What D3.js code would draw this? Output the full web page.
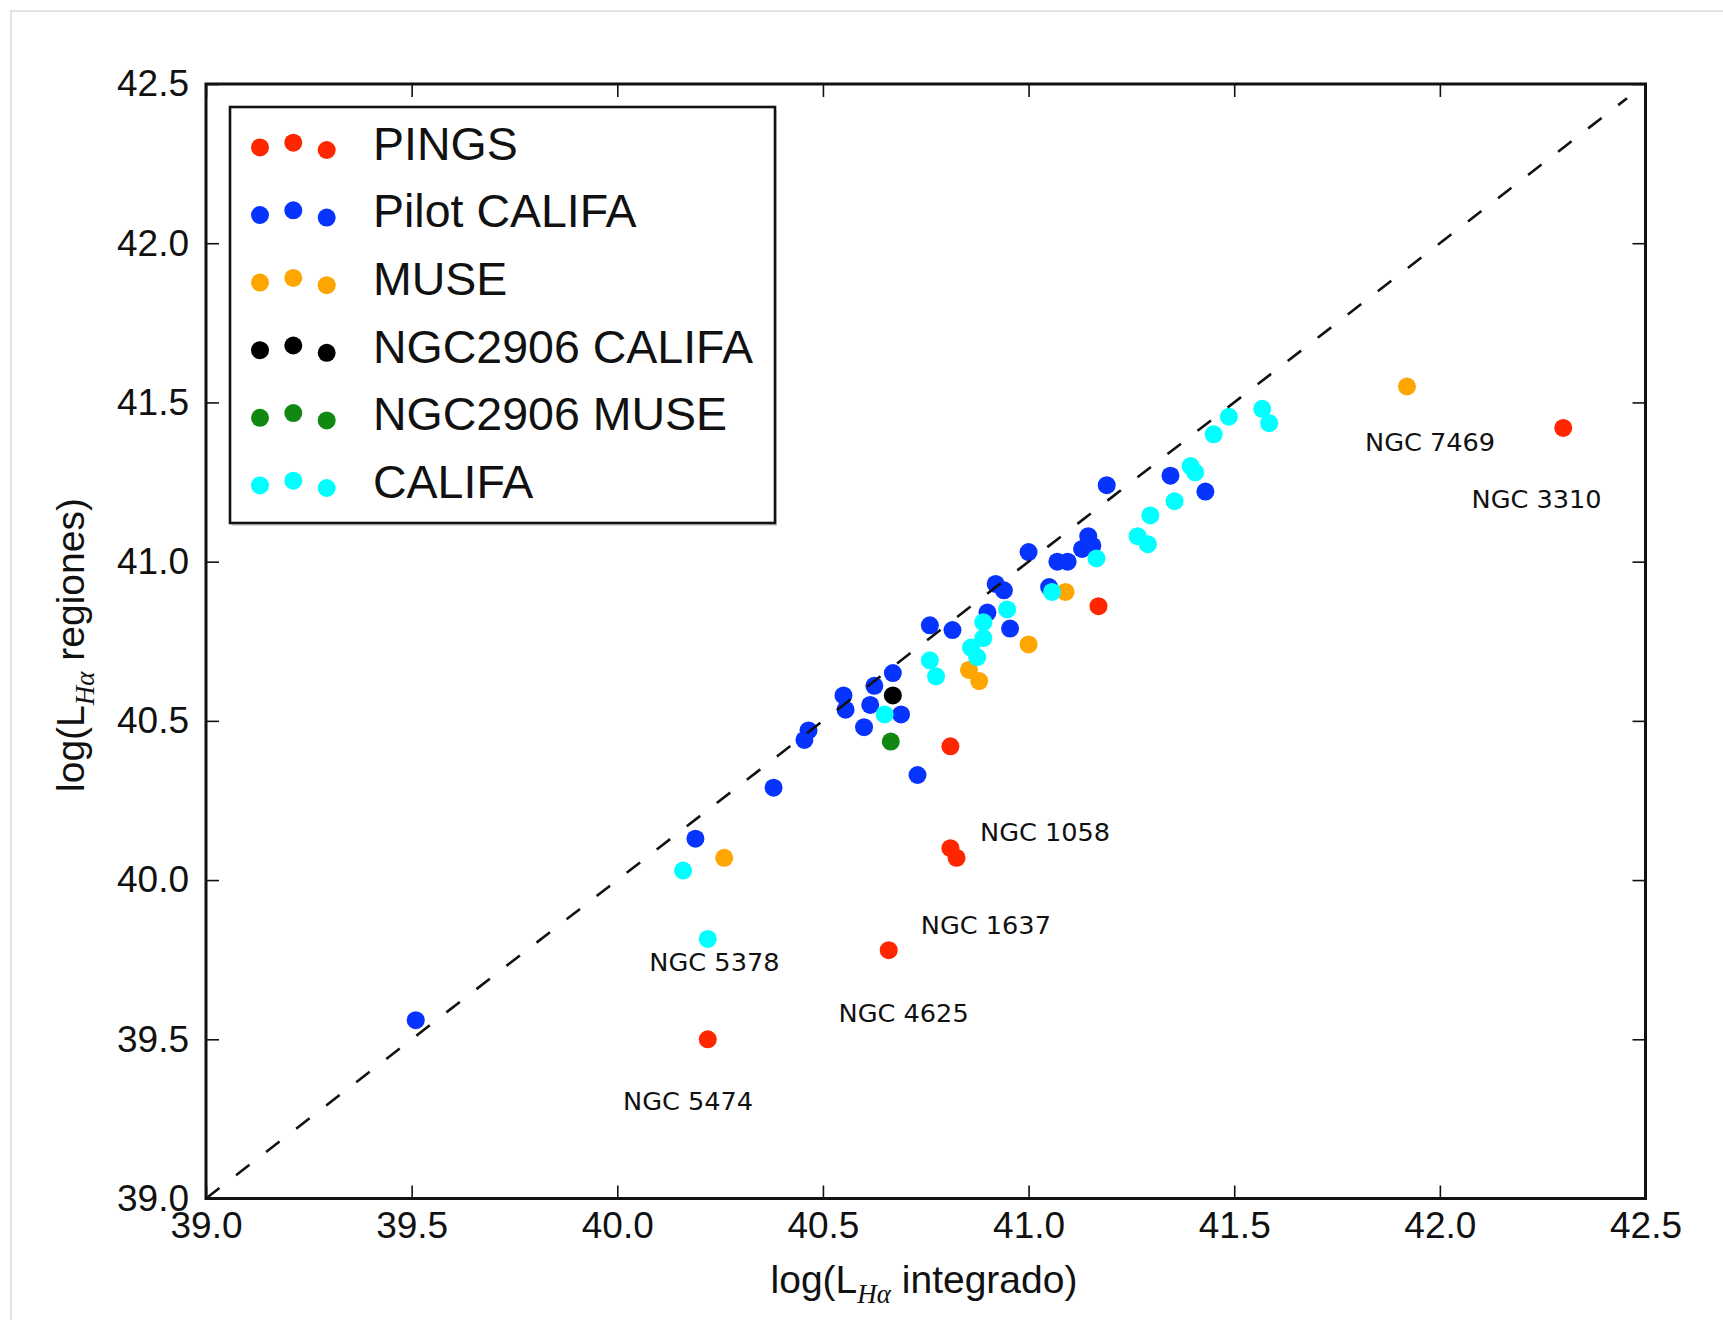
<!DOCTYPE html>
<html><head><meta charset="utf-8">
<script src="https://cdn.jsdelivr.net/npm/d3@7"></script>
<style>body{margin:0;background:#fff;} svg{display:block}</style>
</head><body><svg id="c" width="1723" height="1320"></svg>
<script>
// ---------- data ----------
const seriesNames = ["PINGS", "Pilot CALIFA", "MUSE", "NGC2906 CALIFA", "NGC2906 MUSE", "CALIFA"];
const seriesColors = ["#ff2600", "#0733ff", "#ffa500", "#000000", "#118811", "#00ffff"];

const pingsX = [40.22, 40.66, 40.81, 40.825, 40.81, 41.17, 42.30];
const pingsY = [39.50, 39.78, 40.10, 40.07, 40.42, 40.86, 41.42];

const pilotX = [39.51, 40.19, 40.38, 40.455, 40.465, 40.55, 40.555, 40.60, 40.615, 40.625, 40.67, 40.69, 40.73, 40.76, 40.815, 40.90, 40.92, 40.94, 40.955, 41.00, 41.05, 41.07, 41.095, 41.13, 41.145, 41.155, 41.19, 41.345, 41.43];
const pilotY = [39.56, 40.13, 40.29, 40.44, 40.47, 40.58, 40.535, 40.48, 40.55, 40.61, 40.65, 40.52, 40.33, 40.80, 40.785, 40.84, 40.93, 40.91, 40.79, 41.03, 40.92, 41.00, 41.00, 41.04, 41.08, 41.05, 41.24, 41.27, 41.22];

const museX = [40.26, 40.855, 40.88, 41.00, 41.09, 41.92];
const museY = [40.07, 40.66, 40.625, 40.74, 40.905, 41.55];

const n2906CalifaX = [40.67];
const n2906CalifaY = [40.58];

const n2906MuseX = [40.665];
const n2906MuseY = [40.435];

const califaX = [40.16, 40.22, 40.65, 40.76, 40.775, 40.86, 40.875, 40.89, 40.89, 40.948, 41.057, 41.165, 41.265, 41.29, 41.296, 41.355, 41.394, 41.405, 41.45, 41.487, 41.568, 41.585];
const califaY = [40.03, 39.815, 40.52, 40.69, 40.64, 40.73, 40.70, 40.76, 40.81, 40.85, 40.905, 41.01, 41.08, 41.055, 41.145, 41.19, 41.30, 41.28, 41.40, 41.455, 41.48, 41.435];

const labelTexts = ["NGC 7469", "NGC 3310", "NGC 1058", "NGC 1637", "NGC 5378", "NGC 4625", "NGC 5474"];
const labelX = [41.818, 42.077, 40.882, 40.738, 40.078, 40.538, 40.014];
const labelY = [41.348, 41.169, 40.123, 39.830, 39.713, 39.554, 39.278];

const oneToOneX = [39.0, 42.455];
const oneToOneY = [39.0, 42.455];

const xTicks = [39.0, 39.5, 40.0, 40.5, 41.0, 41.5, 42.0, 42.5];
const yTicks = [39.0, 39.5, 40.0, 40.5, 41.0, 41.5, 42.0, 42.5];
const xDomain = [39.0, 42.5];
const yDomain = [39.0, 42.5];

// ---------- layout ----------
const W = 1723, H = 1320;
const P = {left: 206, right: 1645.5, top: 84, bottom: 1198.5};
const x = d3.scaleLinear().domain(xDomain).range([P.left, P.right]);
const y = d3.scaleLinear().domain(yDomain).range([P.bottom, P.top]);
const svg = d3.select("#c");

// outer light border (top & left)
svg.append("path").attr("d", `M11,${H} V11 H${W}`)
  .attr("fill", "none").attr("stroke", "#e4e4e4").attr("stroke-width", 2);

const series = [
  {xs: pingsX, ys: pingsY},
  {xs: pilotX, ys: pilotY},
  {xs: museX, ys: museY},
  {xs: n2906CalifaX, ys: n2906CalifaY},
  {xs: n2906MuseX, ys: n2906MuseY},
  {xs: califaX, ys: califaY}
].map((s, i) => ({...s, name: seriesNames[i], color: seriesColors[i]}));

const gPts = svg.append("g");
series.forEach(s => {
  gPts.append("g").selectAll("circle")
    .data(d3.zip(s.xs, s.ys))
    .join("circle")
    .attr("cx", d => x(d[0]))
    .attr("cy", d => y(d[1]))
    .attr("r", 9)
    .attr("fill", s.color);
});

// 1:1 dashed line
svg.append("line")
  .attr("x1", x(oneToOneX[0])).attr("y1", y(oneToOneY[0]))
  .attr("x2", x(oneToOneX[1])).attr("y2", y(oneToOneY[1]))
  .attr("stroke", "#111").attr("stroke-width", 2.6)
  .attr("stroke-dasharray", "17,21");

// axes
const fmt = d3.format(".1f");
function styleAxis(g, labels) {
  g.select(".domain").remove();
  g.selectAll(".tick line").attr("stroke", "#111").attr("stroke-width", 1.6);
  g.selectAll(".tick text").attr("fill", "#111")
    .style("font-family", "'Liberation Sans', Arial, sans-serif")
    .style("font-size", "37px");
  if (!labels) g.selectAll(".tick text").remove();
}
svg.append("g").attr("transform", `translate(0,${P.bottom})`)
  .call(d3.axisBottom(x).tickValues(xTicks).tickFormat(fmt).tickSizeInner(-13).tickSizeOuter(0).tickPadding(13.5))
  .call(g => styleAxis(g, true));
svg.append("g").attr("transform", `translate(0,${P.top})`)
  .call(d3.axisTop(x).tickValues(xTicks).tickSizeInner(-13).tickSizeOuter(0))
  .call(g => styleAxis(g, false));
svg.append("g").attr("transform", `translate(${P.left},0)`)
  .call(d3.axisLeft(y).tickValues(yTicks).tickFormat(fmt).tickSizeInner(-13).tickSizeOuter(0).tickPadding(17))
  .call(g => styleAxis(g, true));
svg.append("g").attr("transform", `translate(${P.right},0)`)
  .call(d3.axisRight(y).tickValues(yTicks).tickSizeInner(-13).tickSizeOuter(0))
  .call(g => styleAxis(g, false));

// frame
svg.append("rect").attr("x", P.left).attr("y", P.top)
  .attr("width", P.right - P.left).attr("height", P.bottom - P.top)
  .attr("fill", "none").attr("stroke", "#111").attr("stroke-width", 3);

// annotations
svg.append("g").selectAll("text")
  .data(d3.zip(labelTexts, labelX, labelY))
  .join("text")
  .attr("x", d => x(d[1])).attr("y", d => y(d[2]))
  .attr("fill", "#111")
  .style("font-family", "'DejaVu Sans', sans-serif")
  .style("font-size", "25.6px")
  .text(d => d[0]);

// axis labels
const xl = svg.append("text").attr("x", 924).attr("y", 1293).attr("text-anchor", "middle")
  .attr("fill", "#111").style("font-family", "'Liberation Sans', Arial, sans-serif").style("font-size", "39px");
xl.append("tspan").text("log(L");
xl.append("tspan").attr("dy", 10).style("font-family", "'Liberation Serif', serif").style("font-style", "italic").style("font-size", "27px").text("Hα");
xl.append("tspan").attr("dy", -10).text(" integrado)");

const yl = svg.append("text").attr("transform", "translate(84,645) rotate(-90)").attr("text-anchor", "middle")
  .attr("fill", "#111").style("font-family", "'Liberation Sans', Arial, sans-serif").style("font-size", "39px");
yl.append("tspan").text("log(L");
yl.append("tspan").attr("dy", 10).style("font-family", "'Liberation Serif', serif").style("font-style", "italic").style("font-size", "27px").text("Hα");
yl.append("tspan").attr("dy", -10).text(" regiones)");

// legend
const L = {x: 230, y: 107, w: 545, h: 416, row0: 142.7, rowStep: 67.6};
const lg = svg.append("g");
lg.append("rect").attr("x", L.x + 2).attr("y", L.y + 3).attr("width", L.w).attr("height", L.h)
  .attr("fill", "#d8d8d8");
lg.append("rect").attr("x", L.x).attr("y", L.y).attr("width", L.w).attr("height", L.h)
  .attr("fill", "#fff").attr("stroke", "#111").attr("stroke-width", 2.6);
const handleX = [260, 293.3, 326.7];
const handleDy = [4.7, 0, 7.3];
series.forEach((s, i) => {
  const cy = L.row0 + i * L.rowStep;
  handleX.forEach((hx, k) => {
    lg.append("circle").attr("cx", hx).attr("cy", cy + handleDy[k]).attr("r", 9).attr("fill", s.color);
  });
  lg.append("text").attr("x", 373).attr("y", cy + 17)
    .attr("fill", "#111")
    .style("font-family", "'Liberation Sans', Arial, sans-serif")
    .style("font-size", "46.5px")
    .text(s.name);
});
</script>
</body></html>
